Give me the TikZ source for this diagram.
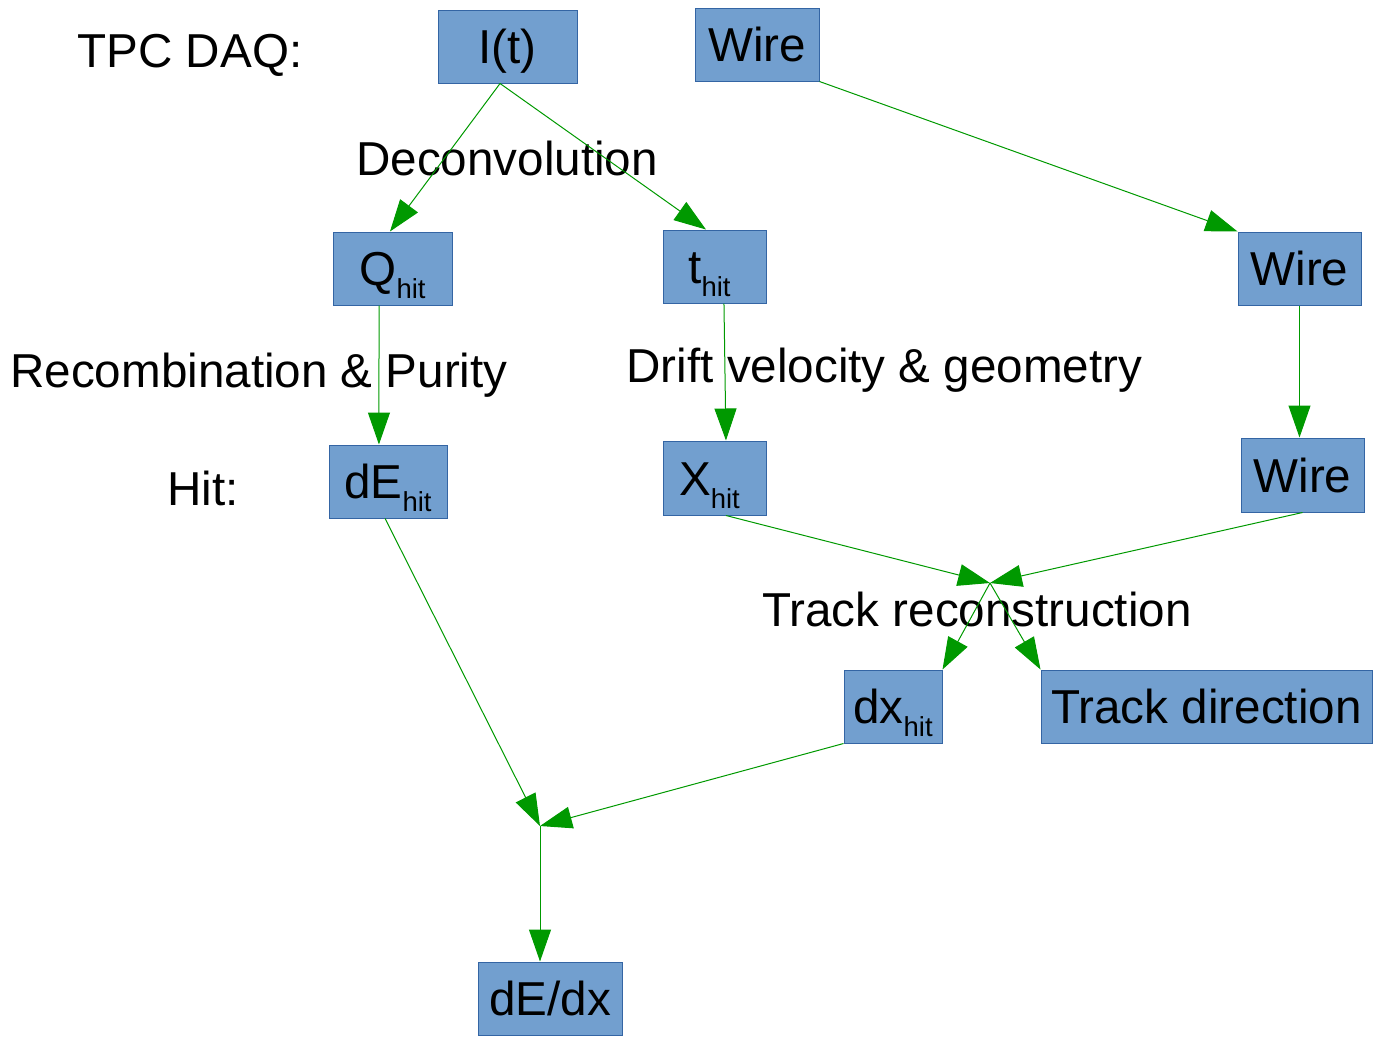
\documentclass[tikz,border=0pt]{standalone}
\usepackage{fontspec}
\setmainfont{Liberation Sans}
\usetikzlibrary{arrows.meta,calc}
\definecolor{boxfill}{HTML}{729FCF}
\definecolor{boxline}{HTML}{3465A4}
\definecolor{flow}{HTML}{009900}
\newcommand{\bigfont}{\fontsize{35.7}{40}\selectfont}
\newcommand{\sub}[1]{\raisebox{-9.8pt}{\fontsize{20.6}{22}\selectfont #1}}
\tikzset{
  blk/.style={draw=boxline, line width=0.75pt, fill=boxfill, inner sep=0pt,
    font=\bigfont, text height=25.6pt, text depth=0pt},
  sz/.style args={#1x#2}{minimum width=#1*0.75pt, minimum height=#2*0.75pt},
  lbl/.style={inner sep=0pt, font=\bigfont, text height=25.6pt, text depth=0pt},
  flowline/.style={draw=flow, line width=0.75pt,
    -{Triangle[length=24pt,width=16.5pt]}}
}
\begin{document}
\begin{tikzpicture}[x=0.75pt,y=-0.75pt]
\useasboundingbox (0,0) rectangle (1374,1036);

% boxes
\node[blk, sz=139x73] (it)   at (507.5,46.5)  {I(t)};
\node[blk, sz=124x73] (w1)   at (757,44.5)    {Wire};
\node[blk, sz=119x73] (q)    at (392.5,268.5) {Q\sub{hit}};
\node[blk, sz=103x73] (t)    at (714.5,266.5) {t\sub{hit}\kern7.5pt};
\node[blk, sz=123x73] (w2)   at (1299.5,268.5){Wire};
\node[blk, sz=118x73] (de)   at (388,481.5)   {dE\sub{hit}};
\node[blk, sz=103x74] (xh)   at (714.5,478)   {X\sub{hit}\kern7.5pt};
\node[blk, sz=123x74] (w3)   at (1302.5,475)  {Wire};
\node[blk, sz=98x73]  (dx)   at (893,706.5)   {dx\sub{hit}};
\node[blk, sz=331x73] (td)   at (1206.5,706.5){Track direction};
\node[blk, sz=144x73] (dedx) at (550,998.5)   {dE/dx};

% labels
\node[lbl] (daq)   at (190,50)  {TPC DAQ:};
\node[lbl] (decon) at (507,158) {Deconvolution};
\node[lbl] (recom) at (259,370) {Recombination \& Purity};
\node[lbl] (drift) at (884.5,365) {Drift velocity \& geometry};
\node[lbl] (hit)   at (203,488) {Hit:};
\node[lbl] (trk)   at (977,609) {Track reconstruction};

% junction points
\coordinate (j1) at (990,583);
\coordinate (j2) at (540,826);

% connectors
\draw[flowline] ([xshift=-5.6pt]it.south) -- ([xshift=-1.9pt]q.north);
\draw[flowline] ([xshift=-5.6pt]it.south) -- ([xshift=-6.4pt]t.north);
\draw[flowline] (w1.south east) -- (w2.north west);
\draw[flowline] (w2.south) -- (w2.south |- w3.north);
\draw[flowline] ([xshift=-10.1pt]q.south) -- ([xshift=-6.8pt]de.north);
\draw[flowline] ([xshift=7.1pt]t.south) -- ([xshift=8.6pt]xh.north);
\draw[flowline] ([xshift=8.6pt]xh.south) -- (j1);
\draw[flowline] (w3.south) -- (j1);
\draw[flowline] (j1) -- (dx.north east);
\draw[flowline] (j1) -- (td.north west);
\draw[flowline] ([xshift=-2.2pt]de.south) -- (j2);
\draw[flowline] (dx.south west) -- (j2);
\draw[flowline] (j2) -- ([xshift=-7.5pt]dedx.north);
\end{tikzpicture}
\end{document}
